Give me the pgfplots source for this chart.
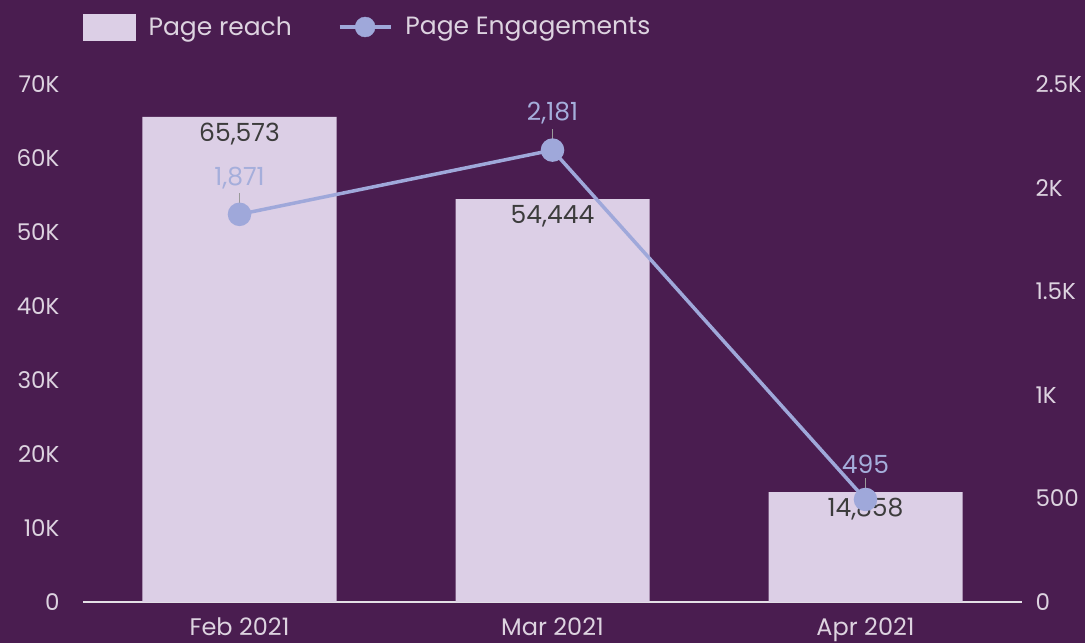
\documentclass[border=0pt]{standalone}
\usepackage{pgfplots}
\pgfplotsset{compat=1.18}
\usepackage{fontspec}
\setmainfont{Poppins}
\definecolor{bg}{HTML}{4A1D50}
\definecolor{barc}{HTML}{DCCFE6}
\definecolor{linec}{HTML}{9FA8DA}
\definecolor{tickc}{HTML}{DDD3E0}
\definecolor{valc}{HTML}{3C3C3C}
\definecolor{lvalc}{HTML}{A5AEDB}
\definecolor{basec}{HTML}{E4E0E6}
\definecolor{pinc}{HTML}{9A9A9A}
\begin{document}
\begin{tikzpicture}
\fill[bg] (-83pt,-41pt) rectangle (1002pt,602pt);
\useasboundingbox (-83pt,-41pt) rectangle (1002pt,602pt);
\pgfplotsset{
  every axis/.append style={
    at={(0pt,0pt)}, anchor=south west,
    scale only axis, width=939pt, height=518pt,
    xmin=-0.5, xmax=2.5,
    major tick length=0pt,
    /pgf/number format/.cd, 1000 sep={,}, assume math mode=true,
  },
}
\begin{axis}[
  ymin=0, ymax=70000,
  ybar, bar width=194pt,
  axis x line*=bottom,
  axis y line*=left,
  x axis line style={draw=basec, line width=2pt, -},
  y axis line style={draw=none},
  xtick={0,1,2},
  xticklabels={Feb 2021, Mar 2021, Apr 2021},
  xticklabel style={text=tickc, font=\fontsize{24}{28}\selectfont, yshift=-12pt},
  ytick={0,10000,20000,30000,40000,50000,60000,70000},
  yticklabels={0,10K,20K,30K,40K,50K,60K,70K},
  yticklabel style={text=tickc, font=\fontsize{23}{27}\selectfont, xshift=-20pt},
  scaled y ticks=false,
]
\addplot[fill=barc, draw=none,
  nodes near coords,
  every node near coord/.append style={anchor=north, inner sep=0pt, yshift=-6pt, text=valc, font=\fontsize{25}{29}\selectfont},
] coordinates {(0,65573) (1,54444) (2,14858)};
\end{axis}
\begin{axis}[
  ymin=0, ymax=2500,
  axis x line=none,
  axis y line*=right,
  y axis line style={draw=none},
  ytick={0,500,1000,1500,2000,2500},
  yticklabels={0,500,1K,1.5K,2K,2.5K},
  yticklabel style={text=tickc, font=\fontsize{23}{27}\selectfont, xshift=10pt},
  legend style={draw=none, fill=none, text=tickc, font=\fontsize{25}{29}\selectfont,
    at={(axis description cs:0,1)}, anchor=west, yshift=57pt, inner sep=0pt,
    /tikz/every odd column/.append style={column sep=11pt},
    /tikz/every even column/.append style={column sep=44pt}},
  legend columns=2,
  legend cell align=left,
]
\addlegendimage{legend image code/.code={\fill[barc] (0pt,-13pt) rectangle (52pt,13pt);}}
\addlegendentry{Page reach}
\addlegendimage{legend image code/.code={\draw[linec, line width=3.5pt] (0pt,0pt) -- (51pt,0pt); \fill[linec] (25.5pt,0pt) circle (10pt);}}
\addlegendentry{Page Engagements}
\addplot[draw=none, mark=none, forget plot,
  nodes near coords={\textcolor{pinc}{\rule{1.5pt}{12pt}}},
  every node near coord/.append style={anchor=south, inner sep=0pt, yshift=9pt},
] coordinates {(0,1871) (1,2181) (2,495)};
\addplot[linec, line width=3.5pt, mark=*, mark size=10pt, mark options={fill=linec, draw=none}, forget plot,
  nodes near coords,
  every node near coord/.append style={anchor=south, inner sep=0pt, yshift=24pt, text=lvalc, font=\fontsize{25}{29}\selectfont},
] coordinates {(0,1871) (1,2181) (2,495)};
\end{axis}
\end{tikzpicture}
\end{document}
